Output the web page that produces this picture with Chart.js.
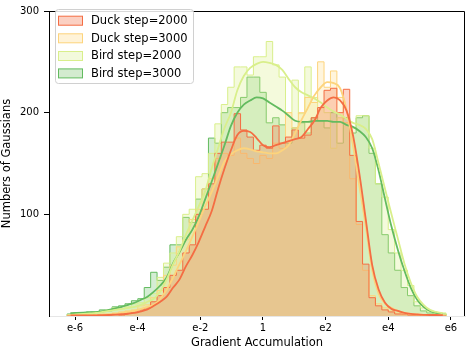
<!DOCTYPE html>
<html><head><meta charset="utf-8">
<script src="https://cdn.jsdelivr.net/npm/chart.js@4.4.1/dist/chart.umd.min.js"></script>
<style>html,body{margin:0;padding:0;background:#fff;}canvas{display:block;}</style>
</head><body>
<canvas id="c" width="466" height="350"></canvas>
<script>
// ---------- data ----------
const binEdges = [-6.25,-6.045,-5.84,-5.635,-5.43,-5.225,-5.02,-4.815,-4.61,-4.405,
  -4.2,-3.995,-3.79,-3.585,-3.38,-3.175,-2.97,-2.765,-2.56,-2.355,
  -2.15,-1.945,-1.74,-1.535,-1.33,-1.125,-0.92,-0.715,-0.51,-0.305,
  -0.1,0.105,0.31,0.515,0.72,0.925,1.13,1.335,1.54,1.745,
  1.95,2.155,2.36,2.565,2.77,2.975,3.18,3.385,3.59,3.795,
  4.0,4.205,4.41,4.615,4.82,5.025,5.23,5.435,5.64,5.845];
const binCenters = [-6.1475,-5.9425,-5.7375,-5.5325,-5.3275,-5.1225,-4.9175,-4.7125,-4.5075,-4.3025,
  -4.0975,-3.8925,-3.6875,-3.4825,-3.2775,-3.0725,-2.8675,-2.6625,-2.4575,-2.2525,
  -2.0475,-1.8425,-1.6375,-1.4325,-1.2275,-1.0225,-0.8175,-0.6125,-0.4075,-0.2025,
  0.0025,0.2075,0.4125,0.6175,0.8225,1.0275,1.2325,1.4375,1.6425,1.8475,
  2.0525,2.2575,2.4625,2.6675,2.8725,3.0775,3.2825,3.4875,3.6925,3.8975,
  4.1025,4.3075,4.5125,4.7175,4.9225,5.1275,5.3325,5.5375,5.7425];
const seriesLabels = ['Duck step=2000','Duck step=3000','Bird step=2000','Bird step=3000'];

const duck2000Counts = [0,0,0,1,0,1,1,1,2,1, 3,4,6,8,14,20,28,40,45,62,
  70,100,105,130,160,171,171,199,183,176, 163,168,165,187,170,176,183,175,178,195,
  205,222,224,200,223,158,93,51,18,10, 6,4,2,2,1,1,0,1,0];
const duck3000Counts = [0,1,0,1,1,1,2,2,3,4, 5,6,10,11,18,25,40,50,68,75,
  95,105,125,135,155,160,158,175,160,155, 150,158,155,170,165,200,185,200,215,210,
  250,225,241,215,190,135,90,45,20,12, 8,5,3,2,1,1,1,0,1];
const bird2000Counts = [1,1,2,2,3,4,4,6,8,7, 9,12,13,18,22,38,52,62,78,100,
  105,137,140,160,189,208,225,245,245,237, 255,255,270,247,235,200,232,199,245,215,
  205,200,165,195,190,185,197,197,165,130, 117,85,62,45,30,14,8,5,3];
const bird3000Counts = [2,2,3,3,4,4,6,5,9,10, 12,15,17,28,43,35,48,70,70,97,
  92,115,125,175,170,200,205,205,215,235, 235,220,190,195,188,170,185,190,180,195,
  192,185,200,170,195,180,195,197,160,130, 80,62,45,28,20,10,5,3,2];

const duck2000Kde = [0.5,0.5,0.5,0.6,0.7,0.8,1,1.3,1.7,2.2, 3,4.5,6.5,10,14,19,28,36,49,60,
  73,88,103,125,145,163,178,182,181,175, 168,166,168,170,172,174,176,184,192,205,
  212,215,212,202,178,140,95,50,26,13, 7,5,3,2,1.5,1.2,1,1,0.8];
const duck3000Kde = [0.5,0.6,0.7,0.8,1,1.2,1.5,2,3,4, 5,7,9,11,17,26,38,51,64,78,
  93,108,122,137,152,159,163,165,164,162, 161,160,160,163,168,180,193,205,217,225,
  230,229,224,203,168,128,88,45,22,12, 8,5,3,2,1.5,1.2,1,1,0.8];
const bird2000Kde = [1,1.5,2,2.5,3,4,5,6,7,8, 9,11,14,17,24,36,51,64,80,94,
  108,123,145,165,185,200,222,236,244,248, 250,249,247,242,233,225,220,217,214,210,
  205,201,198,194,190,188,184,174,150,125, 100,76,52,33,19,11,6,4,2.5];
const bird3000Kde = [2.7,3,3.3,3.6,3.9,4.5,6,7.5,9,11, 13,16,19,24,30,38,52,63,75,85,
  98,115,132,150,168,187,200,208,212,215, 214,210,206,202,197,192,191,191,192,192,
  192,191,191,188,186,182,176,165,143,115, 88,65,45,28,16,9,5,3,2];

const xTickValues = [-6,-4,-2,0,2,4,6];
const xTickLabels = ['e-6','e-4','e-2','1','e2','e4','e6'];
const yTickValues = [100,200,300];

// ---------- styles ----------
const edgeColors = ['#f46d43','#fdd47c','#d9ef8b','#63bb5f'];
const fillColors = ['rgba(244,109,67,0.28)','rgba(254,222,139,0.30)','rgba(217,239,139,0.30)','rgba(102,189,99,0.28)'];
const legendFill = ['#fbd0c2','#fff3d8','#f3fadc','#d3ebcf'];
const FONT = "'DejaVu Sans', sans-serif";

const countsList = [duck2000Counts, duck3000Counts, bird2000Counts, bird3000Counts];
const kdeList = [duck2000Kde, duck3000Kde, bird2000Kde, bird3000Kde];

// histogram outline as a step path over the bin edges
function stepPoints(counts) {
  const pts = [{x: binEdges[0], y: 0}];
  counts.forEach((c, i) => pts.push({x: binEdges[i], y: c}));
  pts.push({x: binEdges[binEdges.length - 1], y: counts[counts.length - 1]});
  pts.push({x: binEdges[binEdges.length - 1], y: 0});
  return pts;
}
const kdePoints = arr => arr.map((v, i) => ({x: binCenters[i], y: v}));

const datasets = [];
seriesLabels.forEach((lab, i) => {
  datasets.push({
    type: 'line', label: lab, data: stepPoints(countsList[i]), stepped: 'after',
    backgroundColor: fillColors[i], borderColor: edgeColors[i], borderWidth: 1,
    fill: 'origin', pointRadius: 0, order: 4 + i
  });
});
seriesLabels.forEach((lab, i) => {
  datasets.push({
    type: 'line', label: lab + ' kde', data: kdePoints(kdeList[i]),
    borderColor: edgeColors[i], borderWidth: 1.8, pointRadius: 0, fill: false,
    cubicInterpolationMode: 'monotone', order: i
  });
});

const framePlugin = {
  id: 'frame',
  afterDatasetsDraw(chart) {
    const {ctx, chartArea: a} = chart;
    ctx.save();
    ctx.strokeStyle = '#000'; ctx.lineWidth = 1;
    ctx.beginPath();
    ctx.moveTo(a.left, a.top + 0.5); ctx.lineTo(a.right - 0.5, a.top + 0.5);
    ctx.lineTo(a.right - 0.5, a.bottom);
    ctx.stroke();
    ctx.restore();
  },
  afterDraw(chart) {
    const ctx = chart.ctx;
    ctx.save();
    const bx = 55.5, by = 9.5, bw = 138, bh = 74, r = 3;
    ctx.beginPath();
    ctx.moveTo(bx + r, by); ctx.lineTo(bx + bw - r, by); ctx.quadraticCurveTo(bx + bw, by, bx + bw, by + r);
    ctx.lineTo(bx + bw, by + bh - r); ctx.quadraticCurveTo(bx + bw, by + bh, bx + bw - r, by + bh);
    ctx.lineTo(bx + r, by + bh); ctx.quadraticCurveTo(bx, by + bh, bx, by + bh - r);
    ctx.lineTo(bx, by + r); ctx.quadraticCurveTo(bx, by, bx + r, by);
    ctx.closePath();
    ctx.fillStyle = 'rgba(255,255,255,0.85)'; ctx.fill();
    ctx.strokeStyle = '#d0d0d0'; ctx.lineWidth = 1; ctx.stroke();
    const rows = [20.7, 38.3, 56, 73.4];
    seriesLabels.forEach((lab, i) => {
      const cy = rows[i];
      ctx.fillStyle = legendFill[i];
      ctx.fillRect(58.5, cy - 4.5, 24, 9);
      ctx.strokeStyle = edgeColors[i]; ctx.lineWidth = 1;
      ctx.strokeRect(58.5, cy - 4.5, 24, 9);
      ctx.fillStyle = '#000';
      ctx.font = '11.5px ' + FONT;
      ctx.textBaseline = 'middle'; ctx.textAlign = 'left';
      ctx.fillText(lab, 91, cy + 0.5);
    });
    ctx.restore();
  }
};

new Chart(document.getElementById('c'), {
  type: 'line',
  data: { datasets },
  options: {
    responsive: false, animation: false, devicePixelRatio: 1,
    layout: { padding: { top: 5, right: 1, left: 0, bottom: 0 } },
    plugins: { legend: { display: false }, tooltip: { enabled: false } },
    scales: {
      x: {
        type: 'linear', min: -6.83, max: 6.45, offset: false,
        afterBuildTicks: s => { s.ticks = xTickValues.map(v => ({value: v})); },
        afterFit: s => { s.height = 34; },
        ticks: { autoSkip: false, maxRotation: 0, padding: 2, color: '#000',
          font: { family: FONT, size: 10 }, callback: (v, i) => xTickLabels[i] },
        grid: { display: true, drawOnChartArea: false, drawTicks: true, tickLength: 4, tickColor: '#000' },
        border: { display: true, color: '#e6e6e6', width: 1 },
        title: { display: true, text: 'Gradient Accumulation', color: '#000',
          font: { family: FONT, size: 11.5 }, padding: { top: 0, bottom: 0 } }
      },
      y: {
        type: 'linear', min: 0, max: 300,
        afterBuildTicks: s => { s.ticks = yTickValues.map(v => ({value: v})); },
        afterFit: s => { s.width = 49; },
        ticks: { autoSkip: false, padding: 5, color: '#000',
          font: { family: FONT, size: 10 }, callback: (v) => String(v) },
        grid: { display: true, drawOnChartArea: false, drawTicks: true, tickLength: 5, tickColor: '#000' },
        border: { display: true, color: '#000', width: 1 },
        title: { display: true, text: 'Numbers of Gaussians', color: '#000',
          font: { family: FONT, size: 11.5 }, padding: { top: 0, bottom: 0 } }
      }
    }
  },
  plugins: [framePlugin]
});
</script>
</body></html>
